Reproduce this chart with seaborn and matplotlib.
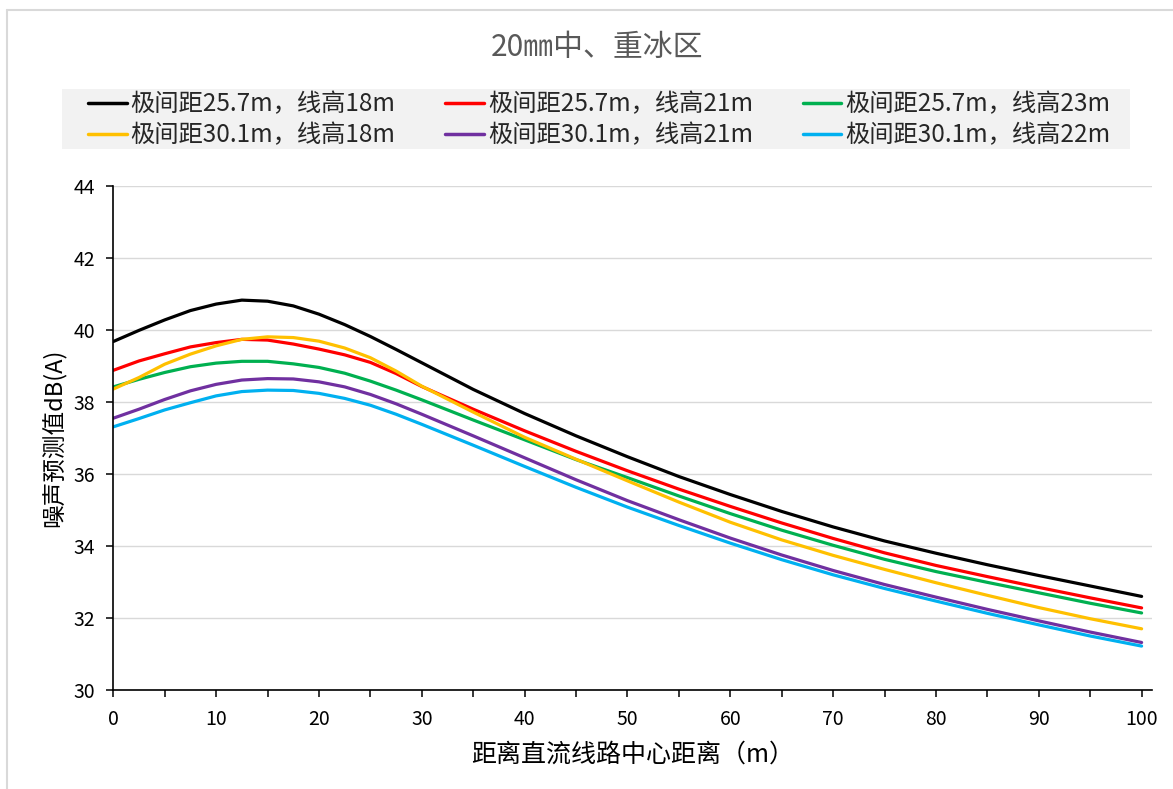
import numpy as np
import pandas as pd
import seaborn as sns
import matplotlib
matplotlib.use("Agg")
import matplotlib.pyplot as plt
from matplotlib.lines import Line2D
from matplotlib.patches import Rectangle

# distance from the DC line centre (m)
distance = [0, 2.5, 5, 7.5, 10, 12.5, 15, 17.5, 20, 22.5, 25, 27.5, 30,
            35, 40, 45, 50, 55, 60, 65, 70, 75, 80, 85, 90, 95, 100]

# predicted noise level dB(A) for each pole spacing / conductor height
s_257_18 = [39.68, 39.99, 40.28, 40.54, 40.72, 40.83, 40.80, 40.67, 40.44, 40.15, 39.82, 39.46, 39.09,
            38.35, 37.68, 37.06, 36.48, 35.93, 35.43, 34.96, 34.53, 34.14, 33.80, 33.48, 33.18, 32.89, 32.60]
s_257_21 = [38.88, 39.14, 39.34, 39.53, 39.65, 39.74, 39.72, 39.61, 39.47, 39.31, 39.10, 38.79, 38.43,
            37.80, 37.20, 36.63, 36.09, 35.58, 35.10, 34.64, 34.21, 33.81, 33.46, 33.15, 32.85, 32.56, 32.28]
s_257_23 = [38.42, 38.63, 38.82, 38.98, 39.08, 39.13, 39.13, 39.06, 38.96, 38.80, 38.58, 38.33, 38.06,
            37.50, 36.95, 36.40, 35.90, 35.39, 34.90, 34.44, 34.02, 33.63, 33.29, 32.99, 32.70, 32.41, 32.14]
s_301_18 = [38.36, 38.68, 39.05, 39.33, 39.56, 39.74, 39.81, 39.79, 39.69, 39.50, 39.23, 38.86, 38.44,
            37.72, 37.02, 36.41, 35.81, 35.22, 34.66, 34.17, 33.74, 33.35, 32.98, 32.63, 32.29, 31.98, 31.70]
s_301_21 = [37.55, 37.80, 38.07, 38.31, 38.49, 38.61, 38.65, 38.64, 38.56, 38.42, 38.21, 37.95, 37.66,
            37.06, 36.45, 35.84, 35.26, 34.73, 34.22, 33.75, 33.32, 32.93, 32.58, 32.24, 31.92, 31.61, 31.32]
s_301_22 = [37.31, 37.54, 37.78, 37.98, 38.17, 38.29, 38.33, 38.32, 38.24, 38.10, 37.91, 37.66, 37.38,
            36.80, 36.21, 35.63, 35.08, 34.57, 34.08, 33.62, 33.20, 32.82, 32.47, 32.13, 31.81, 31.50, 31.22]

series_names = ["极间距25.7m，线高18m", "极间距25.7m，线高21m", "极间距25.7m，线高23m",
                "极间距30.1m，线高18m", "极间距30.1m，线高21m", "极间距30.1m，线高22m"]
series_values = [s_257_18, s_257_21, s_257_23, s_301_18, s_301_21, s_301_22]
colors = ["#000000", "#FF0000", "#00B050", "#FFC000", "#7030A0", "#00B0F0"]

title = "20㎜中、重冰区"
x_label = "距离直流线路中心距离（m）"
y_label = "噪声预测值dB(A)"
x_ticks = list(range(0, 101, 10))
y_ticks = list(range(30, 45, 2))

df = pd.concat(
    [pd.DataFrame({"distance": distance, "level": vals, "case": name})
     for name, vals in zip(series_names, series_values)],
    ignore_index=True,
)

sns.set_theme(style="white")
plt.rcParams["font.family"] = ["Noto Sans CJK SC", "DejaVu Sans"]
plt.rcParams["axes.unicode_minus"] = False

fig = plt.figure(figsize=(11.73, 7.89), dpi=100)
W, H = 1173, 789
ax = fig.add_axes([113.3 / W, 1 - 690 / H, (1152.3 - 113.3) / W, (690 - 186) / H])

sns.lineplot(data=df, x="distance", y="level", hue="case", hue_order=series_names,
             palette=colors, linewidth=2.3, legend=False, ax=ax, sort=True)
for ln in ax.get_lines():
    ln.set_solid_joinstyle("round")
    ln.set_solid_capstyle("round")

ax.set_xlim(0, 101.04)
ax.set_ylim(30, 44)
ax.set_xticks(x_ticks)
ax.set_xticks(list(range(5, 101, 10)), minor=True)
ax.set_yticks(y_ticks)
ax.yaxis.grid(True, color="#d9d9d9", linewidth=1.0)
ax.xaxis.grid(False)
ax.set_axisbelow(True)

for side in ("top", "right"):
    ax.spines[side].set_visible(False)
for side in ("left", "bottom"):
    ax.spines[side].set_color("#000000")
    ax.spines[side].set_linewidth(1.2)

ax.tick_params(axis="both", which="both", direction="out", color="#000000",
               labelsize=14, labelcolor="#000000")
ax.tick_params(axis="y", which="major", length=5, width=1.1, pad=8, left=True)
ax.tick_params(axis="x", which="major", length=5, width=1.1, pad=9, bottom=True)
ax.tick_params(axis="x", which="minor", length=5, width=1.1, bottom=True)

ax.set_xlabel(x_label, fontsize=18, color="#000000", labelpad=8)
ax.set_ylabel(y_label, fontsize=17, color="#000000", labelpad=5)

fig.text(597 / W, 1 - 47 / H, title, ha="center", va="center", fontsize=21.5, color="#595959")

# legend background strip
fig.add_artist(Rectangle((62 / W, 1 - 149 / H), (1130 - 62) / W, 60 / H,
                         transform=fig.transFigure, facecolor="#f2f2f2",
                         edgecolor="none", zorder=0))

# legend: matplotlib fills columns first, so reorder to read row-wise
order = [0, 3, 1, 4, 2, 5]
handles = [Line2D([0], [0], color=colors[i], linewidth=2.5) for i in order]
labels = [series_names[i] for i in order]
leg = fig.legend(handles, labels, ncol=3, loc="center left",
                 bbox_to_anchor=(88 / W, 1 - 120 / H),
                 frameon=False, fontsize=17.5,
                 handlelength=1.6, handletextpad=0.15, labelspacing=0.2,
                 borderpad=0, borderaxespad=0, columnspacing=2.05)

# outer chart border
fig.add_artist(Line2D([7 / W, 7 / W], [0, 1 - 10 / H], transform=fig.transFigure,
                      color="#d9d9d9", linewidth=1.5))
fig.add_artist(Line2D([7 / W, 1], [1 - 10 / H, 1 - 10 / H], transform=fig.transFigure,
                      color="#d9d9d9", linewidth=1.5))

fig.savefig("out.png", dpi=100, facecolor="white")
